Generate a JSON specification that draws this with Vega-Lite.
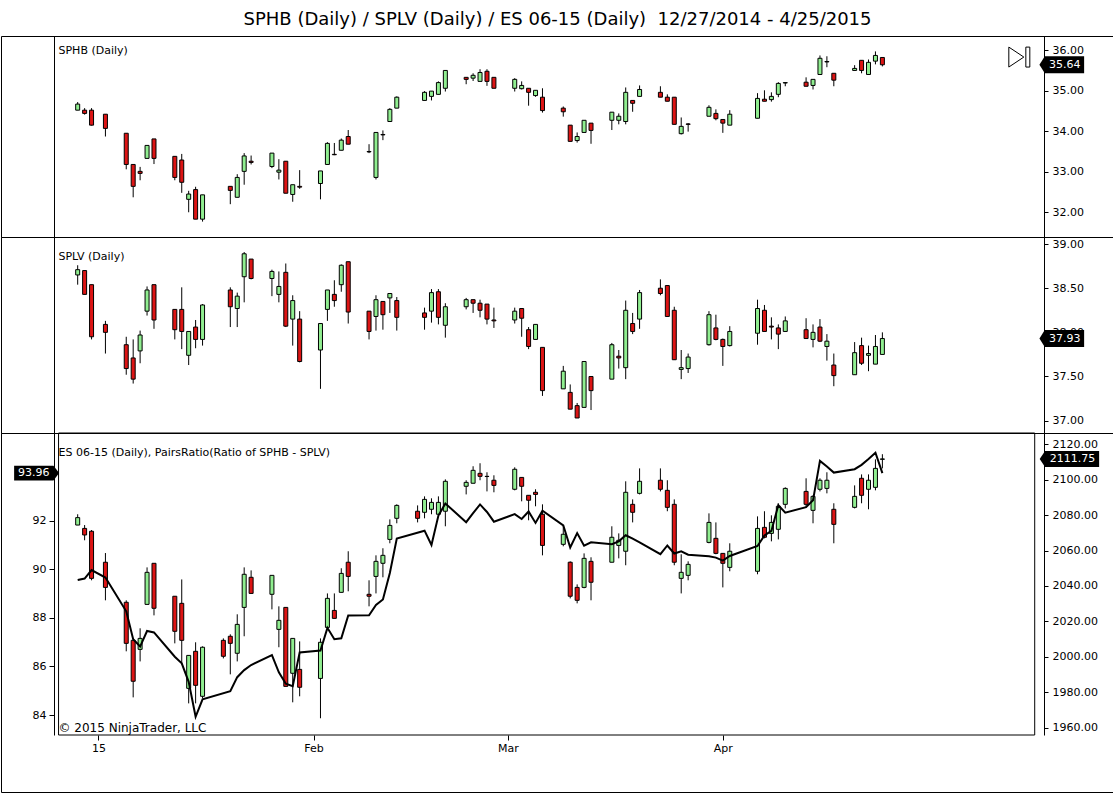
{
  "$schema": "https://vega.github.io/schema/vega-lite/v6.json",
  "padding": {"top": 10, "left": 0, "right": 0, "bottom": 0},
  "background": "white",
  "bounds": "flush",
  "spacing": 0,
  "title": {
    "text": "SPHB (Daily) / SPLV (Daily) / ES 06-15 (Daily) \u00a012/27/2014 - 4/25/2015",
    "font": "DejaVu Sans",
    "fontSize": 18,
    "fontWeight": "normal",
    "color": "black",
    "anchor": "middle",
    "offset": 7
  },
  "config": {
    "view": {"stroke": "black", "strokeWidth": 1},
    "axis": {
      "labelFont": "DejaVu Sans",
      "labelFontSize": 11,
      "labelColor": "black",
      "tickColor": "black",
      "domainColor": "black",
      "grid": false,
      "titleFont": "DejaVu Sans",
      "titleFontSize": 11,
      "titleFontWeight": "normal",
      "titleColor": "black",
      "labelFlush": false,
      "labelOverlap": false
    }
  },
  "datasets": {
    "sphb": [
      {"d": "2014-12-29", "o": 34.52, "h": 34.72, "l": 34.52, "c": 34.67},
      {"d": "2014-12-30", "o": 34.52, "h": 34.57, "l": 34.41, "c": 34.44},
      {"d": "2014-12-31", "o": 34.52, "h": 34.57, "l": 34.14, "c": 34.15},
      {"d": "2015-01-02", "o": 34.42, "h": 34.42, "l": 33.87, "c": 34.07},
      {"d": "2015-01-05", "o": 33.95, "h": 33.95, "l": 33.06, "c": 33.18},
      {"d": "2015-01-06", "o": 33.18, "h": 33.18, "l": 32.37, "c": 32.64},
      {"d": "2015-01-07", "o": 33.01, "h": 33.12, "l": 32.79, "c": 32.96},
      {"d": "2015-01-08", "o": 33.33, "h": 33.65, "l": 33.33, "c": 33.65},
      {"d": "2015-01-09", "o": 33.81, "h": 33.81, "l": 33.19, "c": 33.33},
      {"d": "2015-01-12", "o": 33.38, "h": 33.38, "l": 32.79, "c": 32.86},
      {"d": "2015-01-13", "o": 33.29, "h": 33.44, "l": 32.48, "c": 32.74},
      {"d": "2015-01-14", "o": 32.32, "h": 32.53, "l": 32.00, "c": 32.45},
      {"d": "2015-01-15", "o": 32.56, "h": 32.63, "l": 31.83, "c": 31.83},
      {"d": "2015-01-16", "o": 31.83, "h": 32.43, "l": 31.77, "c": 32.43},
      {"d": "2015-01-20", "o": 32.64, "h": 32.64, "l": 32.20, "c": 32.54},
      {"d": "2015-01-21", "o": 32.37, "h": 32.94, "l": 32.37, "c": 32.86},
      {"d": "2015-01-22", "o": 33.01, "h": 33.46, "l": 32.68, "c": 33.39},
      {"d": "2015-01-23", "o": 33.26, "h": 33.40, "l": 33.18, "c": 33.23},
      {"d": "2015-01-26", "o": 33.13, "h": 33.46, "l": 33.09, "c": 33.46},
      {"d": "2015-01-27", "o": 32.99, "h": 33.31, "l": 32.81, "c": 33.04},
      {"d": "2015-01-28", "o": 33.26, "h": 33.26, "l": 32.47, "c": 32.47},
      {"d": "2015-01-29", "o": 32.44, "h": 32.68, "l": 32.26, "c": 32.68},
      {"d": "2015-01-30", "o": 32.64, "h": 33.04, "l": 32.58, "c": 32.62},
      {"d": "2015-02-02", "o": 32.71, "h": 33.02, "l": 32.32, "c": 33.02},
      {"d": "2015-02-03", "o": 33.18, "h": 33.73, "l": 33.18, "c": 33.70},
      {"d": "2015-02-04", "o": 33.43, "h": 33.71, "l": 33.41, "c": 33.42},
      {"d": "2015-02-05", "o": 33.53, "h": 33.82, "l": 33.53, "c": 33.78},
      {"d": "2015-02-06", "o": 33.87, "h": 34.03, "l": 33.68, "c": 33.68},
      {"d": "2015-02-09", "o": 33.50, "h": 33.68, "l": 33.46, "c": 33.49},
      {"d": "2015-02-10", "o": 32.86, "h": 33.97, "l": 32.81, "c": 33.97},
      {"d": "2015-02-11", "o": 33.92, "h": 34.02, "l": 33.78, "c": 33.91},
      {"d": "2015-02-12", "o": 34.24, "h": 34.57, "l": 34.24, "c": 34.54},
      {"d": "2015-02-13", "o": 34.57, "h": 34.86, "l": 34.57, "c": 34.84},
      {"d": "2015-02-17", "o": 34.76, "h": 34.99, "l": 34.76, "c": 34.96},
      {"d": "2015-02-18", "o": 34.86, "h": 34.99, "l": 34.76, "c": 34.99},
      {"d": "2015-02-19", "o": 34.91, "h": 35.23, "l": 34.91, "c": 35.20},
      {"d": "2015-02-20", "o": 35.06, "h": 35.50, "l": 34.98, "c": 35.50},
      {"d": "2015-02-23", "o": 35.33, "h": 35.33, "l": 35.16, "c": 35.28},
      {"d": "2015-02-24", "o": 35.31, "h": 35.43, "l": 35.24, "c": 35.38},
      {"d": "2015-02-25", "o": 35.23, "h": 35.53, "l": 35.23, "c": 35.45},
      {"d": "2015-02-26", "o": 35.48, "h": 35.53, "l": 35.12, "c": 35.23},
      {"d": "2015-02-27", "o": 35.33, "h": 35.33, "l": 35.06, "c": 35.06},
      {"d": "2015-03-02", "o": 35.06, "h": 35.31, "l": 34.98, "c": 35.28},
      {"d": "2015-03-03", "o": 35.05, "h": 35.23, "l": 35.03, "c": 35.13},
      {"d": "2015-03-04", "o": 35.06, "h": 35.06, "l": 34.63, "c": 34.96},
      {"d": "2015-03-05", "o": 34.88, "h": 35.01, "l": 34.85, "c": 35.01},
      {"d": "2015-03-06", "o": 34.84, "h": 35.06, "l": 34.46, "c": 34.51},
      {"d": "2015-03-09", "o": 34.57, "h": 34.61, "l": 34.36, "c": 34.48},
      {"d": "2015-03-10", "o": 34.15, "h": 34.15, "l": 33.75, "c": 33.75},
      {"d": "2015-03-11", "o": 33.77, "h": 33.97, "l": 33.72, "c": 33.87},
      {"d": "2015-03-12", "o": 33.97, "h": 34.27, "l": 33.97, "c": 34.27},
      {"d": "2015-03-13", "o": 34.20, "h": 34.20, "l": 33.69, "c": 34.02},
      {"d": "2015-03-16", "o": 34.27, "h": 34.47, "l": 34.03, "c": 34.47},
      {"d": "2015-03-17", "o": 34.27, "h": 34.44, "l": 34.17, "c": 34.37},
      {"d": "2015-03-18", "o": 34.24, "h": 35.08, "l": 34.17, "c": 34.96},
      {"d": "2015-03-19", "o": 34.76, "h": 34.76, "l": 34.48, "c": 34.69},
      {"d": "2015-03-20", "o": 34.86, "h": 35.13, "l": 34.86, "c": 35.03},
      {"d": "2015-03-23", "o": 34.96, "h": 35.11, "l": 34.84, "c": 34.84},
      {"d": "2015-03-24", "o": 34.84, "h": 34.91, "l": 34.74, "c": 34.74},
      {"d": "2015-03-25", "o": 34.84, "h": 34.84, "l": 34.17, "c": 34.17},
      {"d": "2015-03-26", "o": 33.94, "h": 34.34, "l": 33.92, "c": 34.12},
      {"d": "2015-03-27", "o": 34.18, "h": 34.20, "l": 33.99, "c": 34.17},
      {"d": "2015-03-30", "o": 34.37, "h": 34.64, "l": 34.37, "c": 34.59},
      {"d": "2015-03-31", "o": 34.44, "h": 34.54, "l": 34.27, "c": 34.31},
      {"d": "2015-04-01", "o": 34.29, "h": 34.29, "l": 33.96, "c": 34.20},
      {"d": "2015-04-02", "o": 34.15, "h": 34.52, "l": 34.15, "c": 34.42},
      {"d": "2015-04-06", "o": 34.32, "h": 34.94, "l": 34.32, "c": 34.81},
      {"d": "2015-04-07", "o": 34.79, "h": 35.01, "l": 34.74, "c": 34.74},
      {"d": "2015-04-08", "o": 34.78, "h": 34.96, "l": 34.73, "c": 34.86},
      {"d": "2015-04-09", "o": 34.91, "h": 35.21, "l": 34.84, "c": 35.18},
      {"d": "2015-04-10", "o": 35.19, "h": 35.21, "l": 35.11, "c": 35.20},
      {"d": "2015-04-13", "o": 35.21, "h": 35.33, "l": 35.11, "c": 35.11},
      {"d": "2015-04-14", "o": 35.13, "h": 35.28, "l": 35.03, "c": 35.28},
      {"d": "2015-04-15", "o": 35.40, "h": 35.87, "l": 35.40, "c": 35.80},
      {"d": "2015-04-16", "o": 35.72, "h": 35.85, "l": 35.58, "c": 35.71},
      {"d": "2015-04-17", "o": 35.43, "h": 35.43, "l": 35.11, "c": 35.26},
      {"d": "2015-04-20", "o": 35.50, "h": 35.63, "l": 35.50, "c": 35.55},
      {"d": "2015-04-21", "o": 35.75, "h": 35.75, "l": 35.43, "c": 35.50},
      {"d": "2015-04-22", "o": 35.40, "h": 35.77, "l": 35.40, "c": 35.70},
      {"d": "2015-04-23", "o": 35.73, "h": 35.97, "l": 35.65, "c": 35.87},
      {"d": "2015-04-24", "o": 35.82, "h": 35.82, "l": 35.60, "c": 35.64}
    ],
    "splv": [
      {"d": "2014-12-29", "o": 38.65, "h": 38.76, "l": 38.54, "c": 38.71},
      {"d": "2014-12-30", "o": 38.70, "h": 38.70, "l": 38.43, "c": 38.43},
      {"d": "2014-12-31", "o": 38.54, "h": 38.54, "l": 37.92, "c": 37.95},
      {"d": "2015-01-02", "o": 38.09, "h": 38.13, "l": 37.76, "c": 38.00},
      {"d": "2015-01-05", "o": 37.86, "h": 37.95, "l": 37.52, "c": 37.59},
      {"d": "2015-01-06", "o": 37.71, "h": 37.92, "l": 37.42, "c": 37.47},
      {"d": "2015-01-07", "o": 37.79, "h": 38.02, "l": 37.65, "c": 37.97},
      {"d": "2015-01-08", "o": 38.24, "h": 38.52, "l": 38.19, "c": 38.48},
      {"d": "2015-01-09", "o": 38.54, "h": 38.54, "l": 38.04, "c": 38.14},
      {"d": "2015-01-12", "o": 38.26, "h": 38.26, "l": 37.92, "c": 38.03},
      {"d": "2015-01-13", "o": 38.26, "h": 38.51, "l": 37.81, "c": 38.01},
      {"d": "2015-01-14", "o": 37.74, "h": 38.01, "l": 37.63, "c": 38.01},
      {"d": "2015-01-15", "o": 38.06, "h": 38.14, "l": 37.82, "c": 37.92},
      {"d": "2015-01-16", "o": 37.92, "h": 38.32, "l": 37.85, "c": 38.31},
      {"d": "2015-01-20", "o": 38.48, "h": 38.51, "l": 38.06, "c": 38.29},
      {"d": "2015-01-21", "o": 38.27, "h": 38.45, "l": 38.06, "c": 38.41},
      {"d": "2015-01-22", "o": 38.63, "h": 38.91, "l": 38.34, "c": 38.89},
      {"d": "2015-01-23", "o": 38.83, "h": 38.83, "l": 38.60, "c": 38.61},
      {"d": "2015-01-26", "o": 38.61, "h": 38.71, "l": 38.41, "c": 38.69},
      {"d": "2015-01-27", "o": 38.43, "h": 38.69, "l": 38.34, "c": 38.52},
      {"d": "2015-01-28", "o": 38.68, "h": 38.78, "l": 38.06, "c": 38.07},
      {"d": "2015-01-29", "o": 38.15, "h": 38.42, "l": 37.85, "c": 38.36},
      {"d": "2015-01-30", "o": 38.15, "h": 38.24, "l": 37.66, "c": 37.67},
      {"d": "2015-02-02", "o": 37.80, "h": 38.10, "l": 37.36, "c": 38.10},
      {"d": "2015-02-03", "o": 38.26, "h": 38.48, "l": 38.13, "c": 38.48},
      {"d": "2015-02-04", "o": 38.43, "h": 38.59, "l": 38.29, "c": 38.36},
      {"d": "2015-02-05", "o": 38.54, "h": 38.77, "l": 38.46, "c": 38.76},
      {"d": "2015-02-06", "o": 38.80, "h": 38.80, "l": 38.10, "c": 38.23},
      {"d": "2015-02-09", "o": 38.24, "h": 38.24, "l": 37.92, "c": 38.01},
      {"d": "2015-02-10", "o": 38.18, "h": 38.42, "l": 38.02, "c": 38.37},
      {"d": "2015-02-11", "o": 38.35, "h": 38.35, "l": 38.03, "c": 38.20},
      {"d": "2015-02-12", "o": 38.39, "h": 38.44, "l": 38.22, "c": 38.44},
      {"d": "2015-02-13", "o": 38.36, "h": 38.40, "l": 38.02, "c": 38.17},
      {"d": "2015-02-17", "o": 38.22, "h": 38.28, "l": 38.03, "c": 38.17},
      {"d": "2015-02-18", "o": 38.24, "h": 38.49, "l": 38.11, "c": 38.45},
      {"d": "2015-02-19", "o": 38.46, "h": 38.49, "l": 38.09, "c": 38.17},
      {"d": "2015-02-20", "o": 38.08, "h": 38.33, "l": 37.94, "c": 38.29},
      {"d": "2015-02-23", "o": 38.29, "h": 38.39, "l": 38.26, "c": 38.37},
      {"d": "2015-02-24", "o": 38.37, "h": 38.37, "l": 38.22, "c": 38.33},
      {"d": "2015-02-25", "o": 38.33, "h": 38.37, "l": 38.17, "c": 38.25},
      {"d": "2015-02-26", "o": 38.32, "h": 38.32, "l": 38.09, "c": 38.15},
      {"d": "2015-02-27", "o": 38.14, "h": 38.28, "l": 38.05, "c": 38.13},
      {"d": "2015-03-02", "o": 38.14, "h": 38.28, "l": 38.10, "c": 38.24},
      {"d": "2015-03-03", "o": 38.27, "h": 38.27, "l": 37.95, "c": 38.16},
      {"d": "2015-03-04", "o": 38.03, "h": 38.06, "l": 37.81, "c": 37.84},
      {"d": "2015-03-05", "o": 37.92, "h": 38.09, "l": 37.92, "c": 38.09},
      {"d": "2015-03-06", "o": 37.83, "h": 37.83, "l": 37.28, "c": 37.34},
      {"d": "2015-03-09", "o": 37.36, "h": 37.62, "l": 37.36, "c": 37.56},
      {"d": "2015-03-10", "o": 37.32, "h": 37.41, "l": 37.13, "c": 37.13},
      {"d": "2015-03-11", "o": 37.17, "h": 37.20, "l": 37.03, "c": 37.03},
      {"d": "2015-03-12", "o": 37.15, "h": 37.67, "l": 37.15, "c": 37.67},
      {"d": "2015-03-13", "o": 37.50, "h": 37.50, "l": 37.12, "c": 37.34},
      {"d": "2015-03-16", "o": 37.47, "h": 37.88, "l": 37.47, "c": 37.86},
      {"d": "2015-03-17", "o": 37.73, "h": 37.80, "l": 37.59, "c": 37.71},
      {"d": "2015-03-18", "o": 37.60, "h": 38.36, "l": 37.47, "c": 38.25},
      {"d": "2015-03-19", "o": 38.10, "h": 38.22, "l": 37.98, "c": 38.01},
      {"d": "2015-03-20", "o": 38.15, "h": 38.48, "l": 38.04, "c": 38.45},
      {"d": "2015-03-23", "o": 38.50, "h": 38.60, "l": 38.42, "c": 38.44},
      {"d": "2015-03-24", "o": 38.53, "h": 38.53, "l": 38.18, "c": 38.18},
      {"d": "2015-03-25", "o": 38.25, "h": 38.29, "l": 37.69, "c": 37.69},
      {"d": "2015-03-26", "o": 37.58, "h": 37.80, "l": 37.47, "c": 37.60},
      {"d": "2015-03-27", "o": 37.59, "h": 37.76, "l": 37.54, "c": 37.72},
      {"d": "2015-03-30", "o": 37.86, "h": 38.24, "l": 37.85, "c": 38.20},
      {"d": "2015-03-31", "o": 38.05, "h": 38.20, "l": 37.91, "c": 37.92},
      {"d": "2015-04-01", "o": 37.92, "h": 37.93, "l": 37.62, "c": 37.84},
      {"d": "2015-04-02", "o": 37.85, "h": 38.07, "l": 37.84, "c": 38.01},
      {"d": "2015-04-06", "o": 37.99, "h": 38.37, "l": 37.86, "c": 38.27},
      {"d": "2015-04-07", "o": 38.25, "h": 38.31, "l": 38.01, "c": 38.01},
      {"d": "2015-04-08", "o": 38.07, "h": 38.17, "l": 37.92, "c": 38.06},
      {"d": "2015-04-09", "o": 38.05, "h": 38.09, "l": 37.81, "c": 37.98},
      {"d": "2015-04-10", "o": 38.01, "h": 38.18, "l": 38.01, "c": 38.13},
      {"d": "2015-04-13", "o": 38.03, "h": 38.16, "l": 37.93, "c": 37.93},
      {"d": "2015-04-14", "o": 37.92, "h": 38.09, "l": 37.83, "c": 38.00},
      {"d": "2015-04-15", "o": 38.06, "h": 38.15, "l": 37.89, "c": 37.90},
      {"d": "2015-04-16", "o": 37.84, "h": 37.98, "l": 37.68, "c": 37.90},
      {"d": "2015-04-17", "o": 37.63, "h": 37.76, "l": 37.39, "c": 37.51},
      {"d": "2015-04-20", "o": 37.52, "h": 37.89, "l": 37.52, "c": 37.77},
      {"d": "2015-04-21", "o": 37.85, "h": 37.94, "l": 37.63, "c": 37.65},
      {"d": "2015-04-22", "o": 37.74, "h": 37.85, "l": 37.56, "c": 37.76},
      {"d": "2015-04-23", "o": 37.64, "h": 37.97, "l": 37.64, "c": 37.84},
      {"d": "2015-04-24", "o": 37.75, "h": 38.00, "l": 37.75, "c": 37.93}
    ],
    "es": [
      {"d": "2014-12-29", "o": 2074.4, "h": 2080.5, "l": 2074.4, "c": 2078.6},
      {"d": "2014-12-30", "o": 2072.5, "h": 2074.4, "l": 2065.8, "c": 2068.8},
      {"d": "2014-12-31", "o": 2070.9, "h": 2071.6, "l": 2043.2, "c": 2044.3},
      {"d": "2015-01-02", "o": 2053.4, "h": 2058.6, "l": 2031.9, "c": 2039.2},
      {"d": "2015-01-05", "o": 2030.8, "h": 2031.9, "l": 2003.1, "c": 2007.6},
      {"d": "2015-01-06", "o": 2009.3, "h": 2009.3, "l": 1977.1, "c": 1986.2},
      {"d": "2015-01-07", "o": 2004.2, "h": 2016.1, "l": 1997.4, "c": 2010.4},
      {"d": "2015-01-08", "o": 2029.6, "h": 2050.5, "l": 2029.6, "c": 2047.7},
      {"d": "2015-01-09", "o": 2052.8, "h": 2052.8, "l": 2023.4, "c": 2027.4},
      {"d": "2015-01-12", "o": 2034.2, "h": 2034.2, "l": 2007.6, "c": 2014.4},
      {"d": "2015-01-13", "o": 2030.2, "h": 2043.7, "l": 1995.8, "c": 2009.3},
      {"d": "2015-01-14", "o": 1982.2, "h": 2000.8, "l": 1973.7, "c": 2000.8},
      {"d": "2015-01-15", "o": 2003.1, "h": 2008.2, "l": 1973.7, "c": 1983.9},
      {"d": "2015-01-16", "o": 1977.7, "h": 2005.9, "l": 1976.5, "c": 2005.4},
      {"d": "2015-01-19", "o": 2009.3, "h": 2010.4, "l": 1999.1, "c": 2000.3},
      {"d": "2015-01-20", "o": 2011.6, "h": 2012.7, "l": 1990.1, "c": 2007.6},
      {"d": "2015-01-21", "o": 2002.0, "h": 2024.0, "l": 1997.4, "c": 2018.3},
      {"d": "2015-01-22", "o": 2027.9, "h": 2050.5, "l": 2011.6, "c": 2046.6},
      {"d": "2015-01-23", "o": 2044.9, "h": 2048.8, "l": 2035.8, "c": 2035.8},
      {"d": "2015-01-26", "o": 2035.3, "h": 2046.0, "l": 2026.8, "c": 2046.0},
      {"d": "2015-01-27", "o": 2015.5, "h": 2028.5, "l": 2005.4, "c": 2020.6},
      {"d": "2015-01-28", "o": 2027.9, "h": 2027.9, "l": 1983.3, "c": 1983.3},
      {"d": "2015-01-29", "o": 1990.7, "h": 2010.4, "l": 1974.3, "c": 2010.4},
      {"d": "2015-01-30", "o": 1992.9, "h": 2008.7, "l": 1977.7, "c": 1982.8},
      {"d": "2015-02-02", "o": 1987.8, "h": 2010.4, "l": 1965.3, "c": 2008.2},
      {"d": "2015-02-03", "o": 2016.6, "h": 2035.8, "l": 2016.6, "c": 2033.0},
      {"d": "2015-02-04", "o": 2026.2, "h": 2035.8, "l": 2021.7, "c": 2021.7},
      {"d": "2015-02-05", "o": 2036.4, "h": 2050.0, "l": 2036.4, "c": 2047.1},
      {"d": "2015-02-06", "o": 2053.4, "h": 2059.6, "l": 2037.0, "c": 2045.4},
      {"d": "2015-02-09", "o": 2035.3, "h": 2043.2, "l": 2028.5, "c": 2034.2},
      {"d": "2015-02-10", "o": 2045.4, "h": 2057.3, "l": 2035.8, "c": 2053.9},
      {"d": "2015-02-11", "o": 2052.8, "h": 2061.3, "l": 2044.9, "c": 2057.3},
      {"d": "2015-02-12", "o": 2066.3, "h": 2077.6, "l": 2064.1, "c": 2074.2},
      {"d": "2015-02-13", "o": 2078.2, "h": 2086.1, "l": 2075.4, "c": 2085.5},
      {"d": "2015-02-16", "o": 2082.2, "h": 2085.5, "l": 2075.9, "c": 2078.2},
      {"d": "2015-02-17", "o": 2081.6, "h": 2090.6, "l": 2078.2, "c": 2088.9},
      {"d": "2015-02-18", "o": 2083.3, "h": 2089.5, "l": 2080.5, "c": 2087.2},
      {"d": "2015-02-19", "o": 2080.5, "h": 2090.6, "l": 2080.5, "c": 2087.2},
      {"d": "2015-02-20", "o": 2082.2, "h": 2100.2, "l": 2073.7, "c": 2099.1},
      {"d": "2015-02-23", "o": 2096.3, "h": 2099.7, "l": 2091.7, "c": 2098.5},
      {"d": "2015-02-24", "o": 2098.0, "h": 2107.6, "l": 2098.0, "c": 2105.3},
      {"d": "2015-02-25", "o": 2103.6, "h": 2109.3, "l": 2099.7, "c": 2101.9},
      {"d": "2015-02-26", "o": 2101.9, "h": 2104.2, "l": 2093.4, "c": 2101.8},
      {"d": "2015-02-27", "o": 2099.7, "h": 2102.5, "l": 2092.9, "c": 2096.8},
      {"d": "2015-03-02", "o": 2094.6, "h": 2107.0, "l": 2094.0, "c": 2105.9},
      {"d": "2015-03-03", "o": 2101.3, "h": 2101.3, "l": 2087.8, "c": 2096.3},
      {"d": "2015-03-04", "o": 2091.2, "h": 2091.2, "l": 2077.1, "c": 2088.4},
      {"d": "2015-03-05", "o": 2092.9, "h": 2094.6, "l": 2085.0, "c": 2091.7},
      {"d": "2015-03-06", "o": 2080.5, "h": 2086.1, "l": 2057.3, "c": 2062.9},
      {"d": "2015-03-09", "o": 2063.5, "h": 2074.2, "l": 2062.4, "c": 2069.2},
      {"d": "2015-03-10", "o": 2053.4, "h": 2053.9, "l": 2033.0, "c": 2034.2},
      {"d": "2015-03-11", "o": 2039.2, "h": 2040.9, "l": 2030.2, "c": 2031.9},
      {"d": "2015-03-12", "o": 2039.2, "h": 2058.4, "l": 2038.7, "c": 2055.6},
      {"d": "2015-03-13", "o": 2053.9, "h": 2056.2, "l": 2031.9, "c": 2042.1},
      {"d": "2015-03-16", "o": 2053.4, "h": 2073.7, "l": 2053.4, "c": 2067.5},
      {"d": "2015-03-17", "o": 2062.9, "h": 2069.7, "l": 2055.6, "c": 2065.8},
      {"d": "2015-03-18", "o": 2059.6, "h": 2099.1, "l": 2051.7, "c": 2092.9},
      {"d": "2015-03-19", "o": 2086.1, "h": 2088.9, "l": 2075.9, "c": 2081.6},
      {"d": "2015-03-20", "o": 2092.3, "h": 2106.4, "l": 2091.7, "c": 2099.1},
      {"d": "2015-03-23", "o": 2099.7, "h": 2106.4, "l": 2093.4, "c": 2094.6},
      {"d": "2015-03-24", "o": 2094.0, "h": 2099.7, "l": 2082.2, "c": 2084.4},
      {"d": "2015-03-25", "o": 2086.1, "h": 2088.9, "l": 2051.7, "c": 2053.4},
      {"d": "2015-03-26", "o": 2044.3, "h": 2057.9, "l": 2035.8, "c": 2047.7},
      {"d": "2015-03-27", "o": 2046.0, "h": 2053.9, "l": 2043.2, "c": 2052.2},
      {"d": "2015-03-30", "o": 2064.6, "h": 2081.0, "l": 2064.1, "c": 2075.9},
      {"d": "2015-03-31", "o": 2066.9, "h": 2075.9, "l": 2057.9, "c": 2058.4},
      {"d": "2015-04-01", "o": 2058.4, "h": 2058.4, "l": 2039.2, "c": 2052.8},
      {"d": "2015-04-02", "o": 2050.5, "h": 2064.1, "l": 2048.3, "c": 2059.6},
      {"d": "2015-04-06", "o": 2048.3, "h": 2079.3, "l": 2046.6, "c": 2072.5},
      {"d": "2015-04-07", "o": 2073.1, "h": 2082.2, "l": 2066.9, "c": 2067.5},
      {"d": "2015-04-08", "o": 2069.7, "h": 2079.9, "l": 2065.2, "c": 2075.9},
      {"d": "2015-04-09", "o": 2072.0, "h": 2086.7, "l": 2066.3, "c": 2085.0},
      {"d": "2015-04-10", "o": 2086.1, "h": 2095.7, "l": 2083.8, "c": 2095.1},
      {"d": "2015-04-13", "o": 2093.4, "h": 2100.8, "l": 2084.4, "c": 2086.1},
      {"d": "2015-04-14", "o": 2082.7, "h": 2091.2, "l": 2075.4, "c": 2090.6},
      {"d": "2015-04-15", "o": 2094.6, "h": 2100.8, "l": 2093.4, "c": 2099.7},
      {"d": "2015-04-16", "o": 2095.1, "h": 2104.2, "l": 2092.3, "c": 2099.7},
      {"d": "2015-04-17", "o": 2083.3, "h": 2086.7, "l": 2064.1, "c": 2074.8},
      {"d": "2015-04-20", "o": 2084.4, "h": 2096.8, "l": 2083.8, "c": 2090.6},
      {"d": "2015-04-21", "o": 2100.8, "h": 2103.0, "l": 2086.7, "c": 2091.2},
      {"d": "2015-04-22", "o": 2094.6, "h": 2103.0, "l": 2083.3, "c": 2099.7},
      {"d": "2015-04-23", "o": 2095.7, "h": 2111.5, "l": 2094.0, "c": 2106.4},
      {"d": "2015-04-24", "o": 2111.5, "h": 2114.4, "l": 2106.4, "c": 2111.75}
    ],
    "ratio": [
      {"d": "2014-12-29", "r": 89.56}, {"d": "2014-12-30", "r": 89.62}, {"d": "2014-12-31", "r": 89.97},
      {"d": "2015-01-02", "r": 89.66}, {"d": "2015-01-05", "r": 88.27}, {"d": "2015-01-06", "r": 87.12},
      {"d": "2015-01-07", "r": 86.82}, {"d": "2015-01-08", "r": 87.46}, {"d": "2015-01-09", "r": 87.40},
      {"d": "2015-01-12", "r": 86.40}, {"d": "2015-01-13", "r": 86.13}, {"d": "2015-01-14", "r": 85.37},
      {"d": "2015-01-15", "r": 83.93}, {"d": "2015-01-16", "r": 84.65}, {"d": "2015-01-20", "r": 84.98},
      {"d": "2015-01-21", "r": 85.56}, {"d": "2015-01-22", "r": 85.85}, {"d": "2015-01-23", "r": 86.06},
      {"d": "2015-01-26", "r": 86.47}, {"d": "2015-01-27", "r": 85.76}, {"d": "2015-01-28", "r": 85.29},
      {"d": "2015-01-29", "r": 85.19}, {"d": "2015-01-30", "r": 86.58}, {"d": "2015-02-02", "r": 86.66},
      {"d": "2015-02-03", "r": 87.59}, {"d": "2015-02-04", "r": 87.12}, {"d": "2015-02-05", "r": 87.16},
      {"d": "2015-02-06", "r": 88.10}, {"d": "2015-02-09", "r": 88.11}, {"d": "2015-02-10", "r": 88.53},
      {"d": "2015-02-11", "r": 88.76}, {"d": "2015-02-12", "r": 89.85}, {"d": "2015-02-13", "r": 91.27},
      {"d": "2015-02-17", "r": 91.59}, {"d": "2015-02-18", "r": 91.00}, {"d": "2015-02-19", "r": 92.21},
      {"d": "2015-02-20", "r": 92.71}, {"d": "2015-02-23", "r": 91.94}, {"d": "2015-02-24", "r": 92.31},
      {"d": "2015-02-25", "r": 92.67}, {"d": "2015-02-26", "r": 92.36}, {"d": "2015-02-27", "r": 91.96},
      {"d": "2015-03-02", "r": 92.27}, {"d": "2015-03-03", "r": 92.07}, {"d": "2015-03-04", "r": 92.38},
      {"d": "2015-03-05", "r": 91.91}, {"d": "2015-03-06", "r": 92.41}, {"d": "2015-03-09", "r": 91.81},
      {"d": "2015-03-10", "r": 90.90}, {"d": "2015-03-11", "r": 91.49}, {"d": "2015-03-12", "r": 90.97},
      {"d": "2015-03-13", "r": 91.11}, {"d": "2015-03-16", "r": 91.03}, {"d": "2015-03-17", "r": 91.15},
      {"d": "2015-03-18", "r": 91.40}, {"d": "2015-03-19", "r": 91.26}, {"d": "2015-03-20", "r": 91.11},
      {"d": "2015-03-23", "r": 90.62}, {"d": "2015-03-24", "r": 90.98}, {"d": "2015-03-25", "r": 90.65},
      {"d": "2015-03-26", "r": 90.74}, {"d": "2015-03-27", "r": 90.60}, {"d": "2015-03-30", "r": 90.54},
      {"d": "2015-03-31", "r": 90.48}, {"d": "2015-04-01", "r": 90.36}, {"d": "2015-04-02", "r": 90.55},
      {"d": "2015-04-06", "r": 90.96}, {"d": "2015-04-07", "r": 91.39}, {"d": "2015-04-08", "r": 91.58},
      {"d": "2015-04-09", "r": 92.64}, {"d": "2015-04-10", "r": 92.33}, {"d": "2015-04-13", "r": 92.56},
      {"d": "2015-04-14", "r": 92.84}, {"d": "2015-04-15", "r": 94.46}, {"d": "2015-04-16", "r": 94.23},
      {"d": "2015-04-17", "r": 93.98}, {"d": "2015-04-20", "r": 94.12}, {"d": "2015-04-21", "r": 94.30},
      {"d": "2015-04-22", "r": 94.54}, {"d": "2015-04-23", "r": 94.80}, {"d": "2015-04-24", "r": 93.96}
    ]
  },
  "vconcat": [
    {
      "width": 1113,
      "height": 201,
      "data": {"name": "sphb"},
      "encoding": {
        "x": {
          "field": "d", "type": "temporal", "axis": null,
          "scale": {"type": "utc", "nice": false, "domain": [{"year": 2014, "month": 12, "date": 18, "hours": 16, "utc": true}, {"year": 2015, "month": 5, "date": 26, "hours": 16, "utc": true}]}
        }
      },
      "layer": [
        {
          "mark": {"type": "rule", "color": "black", "strokeWidth": 1},
          "encoding": {
            "y": {"field": "l", "type": "quantitative", "scale": {"domain": [31.39, 36.35], "nice": false, "zero": false},
                  "axis": {"orient": "right", "offset": -70, "values": [32, 33, 34, 35, 36], "format": ".2f", "tickSize": 4, "labelPadding": 4, "title": null}},
            "y2": {"field": "h"}
          }
        },
        {
          "mark": {"type": "bar", "width": 4, "stroke": "black", "strokeWidth": 1},
          "encoding": {
            "y": {"field": "o", "type": "quantitative",
                  "axis": {"orient": "left", "offset": -53, "labels": false, "ticks": false, "title": "SPHB (Daily)", "titleX": 4, "titleY": 8, "titleAngle": 0, "titleAlign": "left", "titleBaseline": "top"}},
            "y2": {"field": "c"},
            "fill": {"condition": {"test": "datum.c >= datum.o", "value": "#90EE90"}, "value": "#DC1414"}
          }
        },
        {
          "transform": [{"window": [{"op": "row_number", "as": "rn"}], "sort": [{"field": "d", "order": "descending"}]}, {"filter": "datum.rn == 1"}],
          "layer": [
            {"mark": {"type": "point", "shape": "M-1,0L-0.76,-0.38L1,-0.38L1,0.38L-0.76,0.38Z", "size": 2000, "filled": true, "fill": "black", "strokeWidth": 0, "opacity": 1},
             "encoding": {
               "x": {"datum": {"year": 2015, "month": 5, "date": 19, "hours": 20, "minutes": 40, "utc": true}, "type": "temporal"},
               "y": {"field": "c", "type": "quantitative", "axis": null}
             }},
            {"mark": {"type": "text", "color": "white", "font": "DejaVu Sans", "fontSize": 11, "dx": 3},
             "encoding": {
               "x": {"datum": {"year": 2015, "month": 5, "date": 19, "hours": 20, "minutes": 40, "utc": true}, "type": "temporal"},
               "y": {"field": "c", "type": "quantitative", "axis": null},
               "text": {"field": "c", "type": "quantitative", "format": ".2f"}
             }},
            {"mark": {"type": "point", "shape": "M-1,-0.95L0.43,0L-1,0.95ZM0.62,-0.95L1,-0.95L1,0.95L0.62,0.95Z", "size": 441, "filled": false, "stroke": "black", "strokeWidth": 1, "opacity": 1},
             "encoding": {
               "x": {"datum": {"year": 2015, "month": 5, "date": 13, "hours": 17, "minutes": 45, "utc": true}, "type": "temporal"},
               "y": {"datum": 35.83, "type": "quantitative", "axis": null}
             }}
          ],
          "resolve": {"axis": {"y": "independent"}}
        }
      ],
      "resolve": {"axis": {"y": "independent"}}
    },
    {
      "width": 1113,
      "height": 196,
      "data": {"name": "splv"},
      "encoding": {
        "x": {
          "field": "d", "type": "temporal", "axis": null,
          "scale": {"type": "utc", "nice": false, "domain": [{"year": 2014, "month": 12, "date": 18, "hours": 16, "utc": true}, {"year": 2015, "month": 5, "date": 26, "hours": 16, "utc": true}]}
        }
      },
      "layer": [
        {
          "mark": {"type": "rule", "color": "black", "strokeWidth": 1},
          "encoding": {
            "y": {"field": "l", "type": "quantitative", "scale": {"domain": [36.86, 39.08], "nice": false, "zero": false},
                  "axis": {"orient": "right", "offset": -70, "values": [37, 37.5, 38, 38.5, 39], "format": ".2f", "tickSize": 4, "labelPadding": 4, "title": null}},
            "y2": {"field": "h"}
          }
        },
        {
          "mark": {"type": "bar", "width": 4, "stroke": "black", "strokeWidth": 1},
          "encoding": {
            "y": {"field": "o", "type": "quantitative",
                  "axis": {"orient": "left", "offset": -53, "labels": false, "ticks": false, "title": "SPLV (Daily)", "titleX": 4, "titleY": 13, "titleAngle": 0, "titleAlign": "left", "titleBaseline": "top"}},
            "y2": {"field": "c"},
            "fill": {"condition": {"test": "datum.c >= datum.o", "value": "#90EE90"}, "value": "#DC1414"}
          }
        },
        {
          "transform": [{"window": [{"op": "row_number", "as": "rn"}], "sort": [{"field": "d", "order": "descending"}]}, {"filter": "datum.rn == 1"}],
          "encoding": {
            "x": {"datum": {"year": 2015, "month": 5, "date": 19, "hours": 20, "minutes": 40, "utc": true}, "type": "temporal"},
            "y": {"field": "c", "type": "quantitative", "axis": null}
          },
          "layer": [
            {"mark": {"type": "point", "shape": "M-1,0L-0.76,-0.38L1,-0.38L1,0.38L-0.76,0.38Z", "size": 2000, "filled": true, "fill": "black", "strokeWidth": 0, "opacity": 1}},
            {"mark": {"type": "text", "color": "white", "font": "DejaVu Sans", "fontSize": 11, "dx": 3},
             "encoding": {"text": {"field": "c", "type": "quantitative", "format": ".2f"}}}
          ]
        }
      ],
      "resolve": {"axis": {"y": "independent"}}
    },
    {
      "width": 1113,
      "height": 359,
      "encoding": {
        "x": {
          "field": "d", "type": "temporal",
          "scale": {"type": "utc", "nice": false, "domain": [{"year": 2014, "month": 12, "date": 18, "hours": 16, "utc": true}, {"year": 2015, "month": 5, "date": 26, "hours": 16, "utc": true}]},
          "axis": {
            "orient": "bottom", "offset": -57, "domain": false, "tickSize": 5, "labelPadding": 2,
            "values": [
              {"year": 2015, "month": 1, "date": 1, "utc": true},
              {"year": 2015, "month": 2, "date": 1, "utc": true},
              {"year": 2015, "month": 3, "date": 1, "utc": true},
              {"year": 2015, "month": 4, "date": 1, "utc": true}
            ],
            "labelExpr": "utcmonth(datum.value) == 0 ? '15' : utcFormat(datum.value, '%b')",
            "title": "© 2015 NinjaTrader, LLC", "titleX": 57, "titleY": -4, "titleAlign": "left", "titleBaseline": "alphabetic", "titleFontSize": 12
          }
        }
      },
      "layer": [
        {
          "data": {"name": "es"},
          "layer": [
            {
              "mark": {"type": "rule", "color": "black", "strokeWidth": 1},
              "encoding": {
                "y": {"field": "l", "type": "quantitative", "scale": {"domain": [1955.85, 2126.38], "range": [302, 0], "nice": false, "zero": false},
                      "axis": {"orient": "right", "offset": -70, "values": [1960, 1980, 2000, 2020, 2040, 2060, 2080, 2100, 2120], "format": ".2f", "tickSize": 4, "labelPadding": 4, "title": null}},
                "y2": {"field": "h"}
              }
            },
            {
              "mark": {"type": "bar", "width": 4, "stroke": "black", "strokeWidth": 1},
              "encoding": {
                "y": {"field": "o", "type": "quantitative", "axis": null},
                "y2": {"field": "c"},
                "fill": {"condition": {"test": "datum.c >= datum.o", "value": "#90EE90"}, "value": "#DC1414"}
              }
            },
            {
              "transform": [{"window": [{"op": "row_number", "as": "rn"}], "sort": [{"field": "d", "order": "descending"}]}, {"filter": "datum.rn == 1"}],
              "layer": [
                {
                  "mark": {"type": "rect", "filled": false, "stroke": "black", "strokeWidth": 1, "opacity": 1},
                  "encoding": {
                    "x": {"datum": {"year": 2014, "month": 12, "date": 26, "hours": 5, "minutes": 50, "utc": true}, "type": "temporal"},
                    "x2": {"datum": {"year": 2015, "month": 5, "date": 15, "hours": 23, "utc": true}},
                    "y": {"datum": 1955.85, "type": "quantitative", "axis": null},
                    "y2": {"datum": 2126.38}
                  }
                },
                {
                  "mark": {"type": "point", "shape": "M-1,0L-0.82,-0.27L1,-0.27L1,0.27L-0.82,0.27Z", "size": 3528, "filled": true, "fill": "black", "strokeWidth": 0, "opacity": 1},
                  "encoding": {
                    "x": {"datum": {"year": 2015, "month": 5, "date": 20, "hours": 23, "utc": true}, "type": "temporal"},
                    "y": {"field": "c", "type": "quantitative", "axis": null}
                  }
                },
                {
                  "mark": {"type": "text", "color": "white", "font": "DejaVu Sans", "fontSize": 11, "dx": 3},
                  "encoding": {
                    "x": {"datum": {"year": 2015, "month": 5, "date": 20, "hours": 23, "utc": true}, "type": "temporal"},
                    "y": {"field": "c", "type": "quantitative", "axis": null},
                    "text": {"field": "c", "type": "quantitative", "format": ".2f"}
                  }
                }
              ],
              "resolve": {"axis": {"y": "independent"}}
            }
          ],
          "resolve": {"axis": {"y": "independent"}}
        },
        {
          "data": {"name": "ratio"},
          "layer": [
            {
              "mark": {"type": "line", "color": "black", "strokeWidth": 2},
              "encoding": {
                "y": {"field": "r", "type": "quantitative", "scale": {"domain": [83.18, 95.61], "range": [302, 0], "nice": false, "zero": false},
                      "axis": {"orient": "left", "offset": -53, "values": [84, 86, 88, 90, 92], "format": "d", "tickSize": 5, "labelPadding": 3,
                               "title": "ES 06-15 (Daily), PairsRatio(Ratio of SPHB - SPLV)", "titleX": 4, "titleY": 13, "titleAngle": 0, "titleAlign": "left", "titleBaseline": "top"}}
              }
            },
            {
              "transform": [{"window": [{"op": "row_number", "as": "rn"}], "sort": [{"field": "d", "order": "descending"}]}, {"filter": "datum.rn == 1"}],
              "encoding": {
                "x": {"datum": {"year": 2014, "month": 12, "date": 23, "hours": 2, "utc": true}, "type": "temporal"},
                "y": {"field": "r", "type": "quantitative", "axis": null}
              },
              "layer": [
                {"mark": {"type": "point", "shape": "M1,0L0.75,0.33L-1,0.33L-1,-0.33L0.75,-0.33Z", "size": 2025, "filled": true, "fill": "black", "strokeWidth": 0, "opacity": 1}},
                {"mark": {"type": "text", "color": "white", "font": "DejaVu Sans", "fontSize": 11, "dx": -3},
                 "encoding": {"text": {"field": "r", "type": "quantitative", "format": ".2f"}}}
              ]
            }
          ],
          "resolve": {"axis": {"y": "independent"}}
        }
      ],
      "resolve": {"scale": {"y": "independent"}, "axis": {"y": "independent"}}
    }
  ]
}
